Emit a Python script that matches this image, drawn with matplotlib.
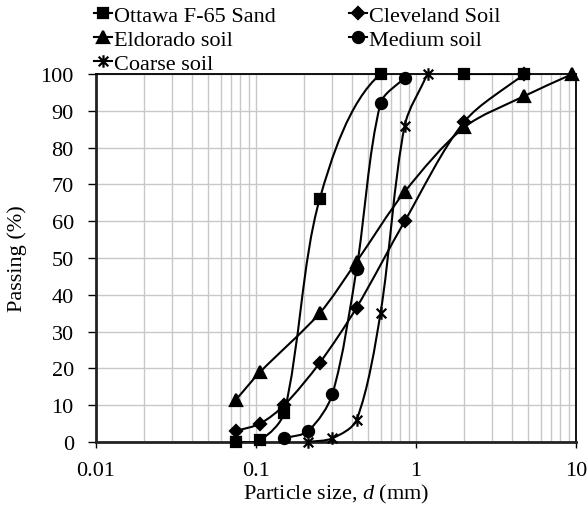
import matplotlib
matplotlib.use("Agg")
import matplotlib.pyplot as plt
import numpy as np
from matplotlib.path import Path
from matplotlib.patches import PathPatch
from matplotlib.lines import Line2D

plt.rcParams["font.family"] = ["Liberation Serif", "DejaVu Serif"]
plt.rcParams["mathtext.fontset"] = "custom"
plt.rcParams["mathtext.rm"] = "Liberation Serif"
plt.rcParams["mathtext.it"] = "Liberation Serif:italic"

# 粒径加積曲線のデータ (mm, %)
ottawa_d = [0.075, 0.106, 0.15, 0.25, 0.6, 2.0, 4.75]
ottawa_p = [0, 0.5, 8, 66, 100, 100, 100]

cleveland_d = [0.075, 0.106, 0.15, 0.25, 0.425, 0.85, 2.0, 4.75]
cleveland_p = [3, 5, 10, 21.5, 36.5, 60, 87, 100]

eldorado_d = [0.075, 0.106, 0.25, 0.425, 0.85, 2.0, 4.75, 9.5]
eldorado_p = [11.5, 19, 35, 49, 68, 85.5, 94, 100]

medium_d = [0.15, 0.212, 0.3, 0.425, 0.6, 0.85]
medium_p = [1, 3, 13, 47, 92, 99]

coarse_d = [0.212, 0.3, 0.425, 0.6, 0.85, 1.18]
coarse_p = [0, 1, 6, 35, 86, 100]

x_ticks = [0.01, 0.1, 1, 10]
x_tick_labels = ["0.01", "0.1", "1", "10"]
y_ticks = list(range(0, 101, 10))

# X + 縦線のマーカー
star = Path([(-1, -1), (1, 1), (-1, 1), (1, -1), (0, -1.3), (0, 1.3)],
            [Path.MOVETO, Path.LINETO] * 3)

series = [
    ("Ottawa F-65 Sand", ottawa_d, ottawa_p, "s", 7),
    ("Cleveland Soil", cleveland_d, cleveland_p, "D", 6),
    ("Eldorado soil", eldorado_d, eldorado_p, "^", 8),
    ("Medium soil", medium_d, medium_p, "o", 8),
    ("Coarse soil", coarse_d, coarse_p, star, 9),
]

# 画面上のスケール (px/decade, px/%)
SX, SY = 160.0, 3.68


# スムージング線: 接線方向は前後の点から、ハンドル長は各区間の長さに比例
def smooth_path(d, p, k=0.3):
    pts = np.column_stack([np.log10(d) * SX, np.asarray(p, float) * SY])
    n = len(pts)
    tang = []
    for i in range(n):
        a = pts[max(i - 1, 0)]
        b = pts[min(i + 1, n - 1)]
        t = b - a
        tang.append(t / np.hypot(*t))
    verts = [pts[0]]
    codes = [Path.MOVETO]
    for i in range(n - 1):
        L = np.hypot(*(pts[i + 1] - pts[i]))
        c1 = pts[i] + tang[i] * L * k
        c2 = pts[i + 1] - tang[i + 1] * L * k
        verts += [c1, c2, pts[i + 1]]
        codes += [Path.CURVE4] * 3
    verts = np.array(verts)
    verts = np.column_stack([10 ** (verts[:, 0] / SX), verts[:, 1] / SY])
    return Path(verts, codes)


fig = plt.figure(figsize=(5.88, 5.10), dpi=100)
ax = fig.add_axes([96 / 588, 1 - 443 / 510, 480 / 588, 368 / 510])
ax.set_xscale("log")
ax.set_xlim(0.01, 10)
ax.set_ylim(0, 100)

handles = []
for name, d, p, mk, ms in series:
    patch = PathPatch(smooth_path(d, p), facecolor="none", edgecolor="black",
                      lw=1.5, zorder=3)
    ax.add_patch(patch)
    ax.plot(d, p, linestyle="none", marker=mk, ms=ms, color="black",
            mec="black", mew=1.6, zorder=4, clip_on=False)
    handles.append(Line2D([], [], color="black", lw=1.5, marker=mk, ms=ms,
                          mew=1.6, label=name))

ax.set_xticks(x_ticks)
ax.set_xticklabels(x_tick_labels)
ax.set_yticks(y_ticks)
ax.xaxis.set_minor_locator(matplotlib.ticker.LogLocator(base=10, subs=np.arange(2, 10)))
ax.xaxis.set_minor_formatter(matplotlib.ticker.NullFormatter())

ax.grid(True, which="major", axis="both", color="#c8c8c8", lw=1.0, zorder=0)
ax.grid(True, which="minor", axis="x", color="#c8c8c8", lw=1.0, zorder=0)
ax.set_axisbelow(True)

ax.tick_params(axis="y", which="major", direction="out", length=6, width=1,
               labelsize=16, pad=10)
ax.tick_params(axis="x", which="major", direction="out", length=4, width=1,
               labelsize=16, pad=10)
ax.tick_params(axis="x", which="minor", length=0)

for side in ["left", "bottom"]:
    ax.spines[side].set_linewidth(2)
    ax.spines[side].set_color("#222222")
for side in ["top", "right"]:
    ax.spines[side].set_linewidth(1.3)
    ax.spines[side].set_color("black")

ax.set_xlabel("Particle size, $d$ (mm)", fontsize=16, labelpad=1)
ax.set_ylabel("Passing (%)", fontsize=16, labelpad=10)

# 凡例 (行方向に並べる)
order = [0, 2, 4, 1, 3]
fig.legend([handles[i] for i in order], [handles[i].get_label() for i in order],
           loc="upper left", bbox_to_anchor=(92 / 588, 1 - 4 / 510), ncol=2,
           frameon=False, fontsize=16, handlelength=0.8, handletextpad=0.1,
           columnspacing=3.3, labelspacing=0.15, borderaxespad=0,
           borderpad=0.1)

fig.savefig("out.png", dpi=100)
